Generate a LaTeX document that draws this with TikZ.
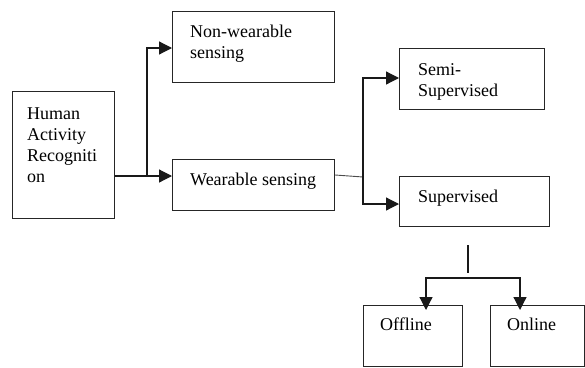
\documentclass[tikz,border=0pt]{standalone}
\usepackage{fontspec}
\setmainfont{Liberation Serif}
\usetikzlibrary{arrows.meta}

\begin{document}
\begin{tikzpicture}[x=1pt,y=-1pt,>={Triangle[length=13pt,width=13pt]},
    box/.style={draw=black!85,line width=1pt,rectangle,inner sep=0pt,anchor=north west},
    lbl/.style={anchor=base west,inner sep=0pt,align=left,font=\fontsize{18}{21}\selectfont},
    conn/.style={line width=1.2pt,black!90}]
    \useasboundingbox (0,0) rectangle (585,367);

    % boxes
    \node[box,minimum width=102pt,minimum height=127pt] (har) at (12,91) {};
    \node[box,minimum width=162pt,minimum height=71pt] (nonwear) at (172,11) {};
    \node[box,minimum width=162pt,minimum height=51pt] (wear) at (172,159) {};
    \node[box,minimum width=145pt,minimum height=61pt] (semi) at (399,48) {};
    \node[box,minimum width=150pt,minimum height=50pt] (sup) at (399,176) {};
    \node[box,minimum width=99pt,minimum height=61pt] (off) at (363,305) {};
    \node[box,minimum width=94pt,minimum height=61pt] (on) at (490,305) {};

    % texts (base = last line)
    \node[lbl] (har t) at (27,182) {Human\\Activity\\Recogniti\\on};
    \node[lbl] (nonwear t) at (190,58) {Non-wearable\\sensing};
    \node[lbl] (wear t) at (190,185) {Wearable sensing};
    \node[lbl] (semi t) at (418,96) {Semi-\\Supervised};
    \node[lbl] (sup t) at (418,202) {Supervised};
    \node[lbl] (off t) at (380,330) {Offline};
    \node[lbl] (on t) at (507,330) {Online};

    % junctions
    \coordinate (j1) at (147,176);
    \coordinate (j2) at (363,177);
    \coordinate (j3) at (468,245);
    \coordinate (j4) at (468,273);
    \coordinate (j5) at (468,278);

    \draw[conn] (j1 -| har.east) -- (j1);
    \draw[conn,->] (j1) -- (wear.west |- j1);
    \draw[conn,->] (j1) |- (nonwear.west |- 0,48);

    \draw[conn,line width=0.9pt,black!70] (wear.east |- 0,175) -- (j2);
    \draw[conn,->] (j2) |- (semi.west |- 0,78);
    \draw[conn,->] (j2) |- (sup.west |- 0,204);

    \draw[conn] (j3) -- (j4);
    \draw[conn,->] (j5) -| ([yshift=-5pt]off.north -| 426,0);
    \draw[conn,->] (j5) -| ([yshift=-5pt]on.north -| 520,0);
\end{tikzpicture}
\end{document}
